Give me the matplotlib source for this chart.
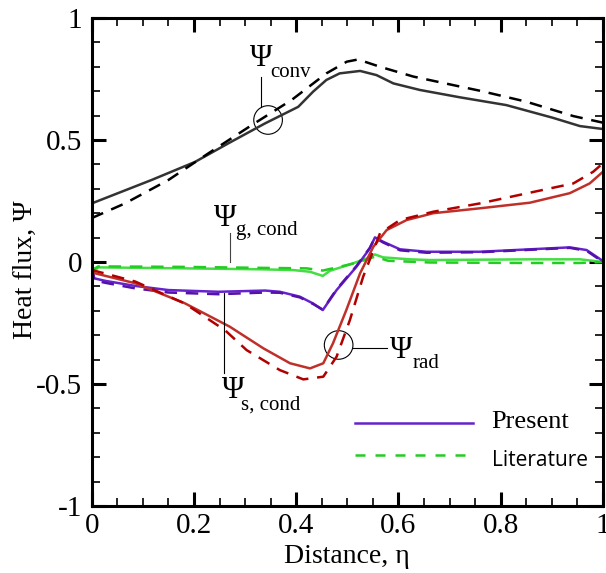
import matplotlib.pyplot as plt
from matplotlib.patches import Ellipse

plt.rcParams['font.family'] = ['Liberation Serif', 'DejaVu Serif']

# convective flux
conv_eta = [0.0, 0.117, 0.202, 0.267, 0.339, 0.404, 0.433, 0.459, 0.485, 0.525, 0.557, 0.590,
            0.642, 0.72, 0.811, 0.902, 0.955, 1.0]
conv_present = [0.24, 0.336, 0.41, 0.486, 0.568, 0.636, 0.698, 0.746, 0.773, 0.783, 0.766, 0.732,
                0.705, 0.675, 0.643, 0.591, 0.557, 0.545]
conv_lit_eta = [0.0, 0.065, 0.15, 0.228, 0.313, 0.391, 0.459, 0.499, 0.521, 0.564, 0.629, 0.707,
                0.759, 0.850, 0.942, 1.0]
conv_lit = [0.18, 0.24, 0.336, 0.445, 0.561, 0.664, 0.773, 0.821, 0.83, 0.8, 0.76, 0.725,
            0.702, 0.657, 0.598, 0.571]

# gas conduction
g_eta = [0.0, 0.003, 0.013, 0.18, 0.332, 0.394, 0.427, 0.452, 0.466, 0.505, 0.544, 0.554, 0.570,
         0.622, 0.661, 0.857, 0.955, 1.0]
g_present = [-0.06, -0.04, -0.022, -0.026, -0.03, -0.033, -0.04, -0.057, -0.036, -0.01, 0.019,
             0.031, 0.019, 0.011, 0.008, 0.011, 0.011, 0.0]
g_lit_eta = [0.0, 0.003, 0.013, 0.18, 0.332, 0.42, 0.452, 0.48, 0.52, 0.554, 0.58, 0.661, 0.857,
             0.955, 1.0]
g_lit = [-0.05, -0.03, -0.018, -0.02, -0.024, -0.026, -0.035, -0.022, -0.002, 0.022, 0.005,
         -0.002, -0.004, -0.004, 0.0]

# solid conduction
s_eta = [0.0, 0.005, 0.026, 0.085, 0.15, 0.248, 0.339, 0.368, 0.407, 0.433, 0.452, 0.479, 0.518,
         0.544, 0.554, 0.570, 0.603, 0.655, 0.759, 0.857, 0.935, 0.968, 1.0]
s_present = [-0.012, -0.067, -0.077, -0.098, -0.115, -0.122, -0.117, -0.122, -0.142, -0.17,
             -0.197, -0.115, -0.019, 0.056, 0.101, 0.083, 0.052, 0.042, 0.042, 0.052, 0.06,
             0.049, 0.004]
s_lit_eta = [0.0, 0.005, 0.026, 0.085, 0.15, 0.248, 0.339, 0.368, 0.407, 0.433, 0.452, 0.479,
             0.518, 0.544, 0.554, 0.570, 0.603, 0.655, 0.759, 0.857, 0.935, 0.968, 1.0]
s_lit = [-0.02, -0.075, -0.085, -0.108, -0.125, -0.132, -0.125, -0.126, -0.145, -0.172, -0.195,
         -0.112, -0.016, 0.058, 0.1, 0.08, 0.048, 0.038, 0.04, 0.05, 0.058, 0.046, 0.0]

# radiative flux
rad_eta = [0.0, 0.006, 0.085, 0.182, 0.270, 0.336, 0.388, 0.427, 0.453, 0.472, 0.498, 0.525,
           0.551, 0.577, 0.616, 0.668, 0.759, 0.857, 0.935, 0.974, 1.0]
rad_present = [-0.04, -0.046, -0.087, -0.169, -0.265, -0.354, -0.415, -0.436, -0.415, -0.333,
               -0.197, -0.046, 0.063, 0.131, 0.172, 0.2, 0.22, 0.243, 0.282, 0.322, 0.37]
rad_lit_eta = [0.0, 0.006, 0.085, 0.182, 0.261, 0.303, 0.368, 0.414, 0.453, 0.479, 0.505, 0.531,
               0.564, 0.603, 0.668, 0.759, 0.857, 0.942, 0.981, 1.0]
rad_lit = [-0.03, -0.036, -0.08, -0.17, -0.28, -0.361, -0.443, -0.481, -0.47, -0.388, -0.238,
           -0.06, 0.118, 0.172, 0.206, 0.24, 0.284, 0.322, 0.37, 0.405]

dash = (0, (5, 3.5))

fig = plt.figure(figsize=(6.06, 5.73), dpi=100)
ax = fig.add_axes([0.1513, 0.1169, 0.8437, 0.8517])

ax.plot(conv_eta, conv_present, color='#333333', lw=1.8)
ax.plot(conv_lit_eta, conv_lit, color='black', lw=1.8, linestyle=dash)
ax.plot(g_eta, g_present, color='#44dd44', lw=1.8)
ax.plot(g_lit_eta, g_lit, color='#22cc22', lw=1.8, linestyle=dash)
ax.plot(s_eta, s_present, color='#6622cc', lw=1.8)
ax.plot(s_lit_eta, s_lit, color='#5511aa', lw=1.8, linestyle=dash)
ax.plot(rad_eta, rad_present, color='#c0302a', lw=1.8)
ax.plot(rad_lit_eta, rad_lit, color='#b00000', lw=1.8, linestyle=dash)

# curve labels with circles and leader lines
ax.add_patch(Ellipse((0.345, 0.582), 0.056, 0.117, fill=False, color='black', lw=0.8))
ax.plot([0.332, 0.332], [0.635, 0.76], color='black', lw=0.8)
ax.text(0.332, 0.835, 'Ψ', fontsize=22, ha='center', va='center')
ax.text(0.35, 0.776, 'conv', fontsize=15, va='center')

ax.add_patch(Ellipse((0.483, -0.34), 0.056, 0.117, fill=False, color='black', lw=0.8))
ax.plot([0.511, 0.577], [-0.354, -0.354], color='black', lw=0.8)
ax.text(0.606, -0.361, 'Ψ', fontsize=22, ha='center', va='center')
ax.text(0.627, -0.415, 'rad', fontsize=15, va='center')

ax.plot([0.270, 0.270], [0.001, 0.118], color='#444444', lw=0.8)
ax.text(0.261, 0.179, 'Ψ', fontsize=22, ha='center', va='center')
ax.text(0.283, 0.131, 'g, cond', fontsize=15, va='center')

ax.plot([0.259, 0.259], [-0.128, -0.456], color='black', lw=0.8)
ax.text(0.277, -0.525, 'Ψ', fontsize=22, ha='center', va='center')
ax.text(0.293, -0.586, 's, cond', fontsize=15, va='center')

# legend drawn by hand in data coordinates
ax.plot([0.515, 0.745], [-0.66, -0.66], color='#6622cc', lw=1.8)
ax.text(0.782, -0.655, 'Present', fontsize=19, va='center')
ax.plot([0.515, 0.745], [-0.79, -0.79], color='#22cc22', lw=1.8, linestyle=(0, (4, 4)))
ax.text(0.782, -0.812, 'Literature', fontsize=15, va='center', family=['Open Sans', 'DejaVu Sans'])

ax.set_xlim(0, 1)
ax.set_ylim(-1, 1)
ax.set_xticks([0, 0.2, 0.4, 0.6, 0.8, 1])
ax.set_xticklabels(['0', '0.2', '0.4', '0.6', '0.8', '1'])
ax.set_yticks([-1, -0.5, 0, 0.5, 1])
ax.set_yticklabels(['-1', '-0.5', '0', '0.5', '1'])
ax.set_xticks([i * 0.05 for i in range(21)], minor=True)
ax.set_yticks([-1 + i * 0.1 for i in range(21)], minor=True)
ax.tick_params(which='both', direction='in', top=True, right=True, labelsize=21)
ax.tick_params(axis='x', which='major', pad=5)
ax.tick_params(axis='y', which='major', pad=7)
ax.tick_params(which='major', length=10, width=2.2)
ax.tick_params(which='minor', length=6, width=1.2)
for sp in ax.spines.values():
    sp.set_linewidth(2.2)

ax.set_xlabel('Distance, η', fontsize=20)
ax.set_ylabel('Heat flux, Ψ', fontsize=20)
ax.xaxis.set_label_coords(0.5, -0.078)
ax.yaxis.set_label_coords(-0.105, 0.484)

plt.savefig('out.png', dpi=100)
